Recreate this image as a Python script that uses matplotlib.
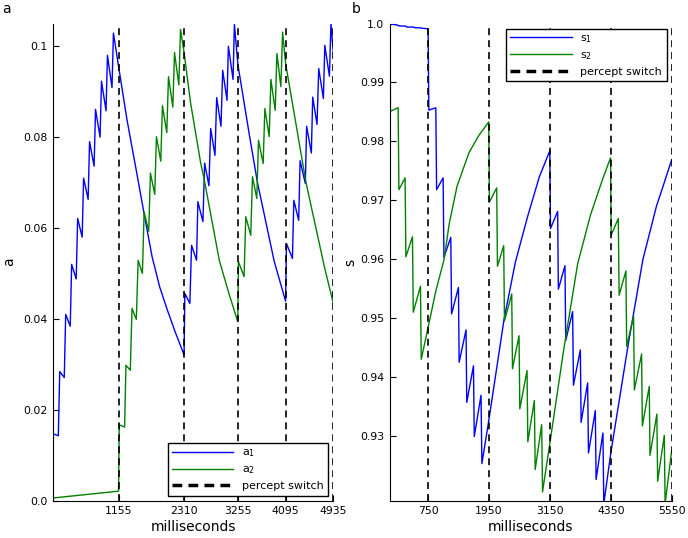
#!/usr/bin/env python3
"""Adaptation (a) and synaptic depression (s) traces with percept switches."""
import matplotlib
matplotlib.use("Agg")
import matplotlib.pyplot as plt
from matplotlib.lines import Line2D

plt.rcParams.update({
    "font.family": "DejaVu Sans", "lines.scale_dashes": False,
    "xtick.direction": "in", "ytick.direction": "in",
})

# ----- panel a: adaptation a1 / a2 (ms, value) ------------------------------------
a1_t = [0, 8, 95, 120, 200, 225, 305, 330, 410, 435, 515, 540, 620, 645, 725, 750,
        830, 855, 935, 960, 1040, 1065, 1155, 1304, 1480, 1597, 1745, 1880, 2010, 2150,
        2308, 2322, 2410, 2440, 2528, 2551, 2640, 2670, 2746, 2776, 2852, 2882, 2958,
        2988, 3064, 3088, 3170, 3194, 3255, 3453, 3600, 3894, 4095, 4110, 4215, 4240,
        4325, 4350, 4442, 4465, 4548, 4572, 4648, 4678, 4760, 4785, 4866, 4893, 4935]
a1_v = [0.0, 0.0147, 0.0143, 0.0284, 0.0271, 0.0410, 0.0384, 0.0520, 0.0488, 0.0621,
        0.0580, 0.0710, 0.0663, 0.0790, 0.0736, 0.0861, 0.0800, 0.0923, 0.0858, 0.0980,
        0.0909, 0.1029, 0.0956, 0.0838, 0.0718, 0.0637, 0.0537, 0.0470, 0.0421, 0.0372,
        0.0321, 0.0456, 0.0434, 0.0562, 0.0529, 0.0658, 0.0614, 0.0743, 0.0693, 0.0819,
        0.0760, 0.0887, 0.0824, 0.0947, 0.0881, 0.1000, 0.0927, 0.1048, 0.0960, 0.0808,
        0.0700, 0.0527, 0.0439, 0.0566, 0.0533, 0.0661, 0.0617, 0.0748, 0.0698, 0.0824,
        0.0765, 0.0888, 0.0828, 0.0951, 0.0885, 0.1002, 0.0934, 0.1050, 0.0985]
a2_t = [0, 1155, 1168, 1262, 1285, 1362, 1392, 1468, 1500, 1575, 1605, 1686, 1716,
        1792, 1822, 1898, 1928, 2004, 2034, 2110, 2140, 2216, 2246, 2310, 2422, 2599,
        2658, 2930, 3100, 3253, 3265, 3364, 3394, 3482, 3512, 3588, 3618, 3700, 3730,
        3806, 3836, 3912, 3942, 4012, 4042, 4095, 4454, 4777, 4935]
a2_v = [0.0006, 0.0021, 0.0167, 0.0162, 0.0298, 0.0287, 0.0423, 0.0399, 0.0529, 0.0500,
        0.0635, 0.0593, 0.0721, 0.0674, 0.0801, 0.0747, 0.0869, 0.0810, 0.0933, 0.0866,
        0.0986, 0.0915, 0.1037, 0.0985, 0.0876, 0.0744, 0.0710, 0.0528, 0.0455, 0.0394,
        0.0526, 0.0493, 0.0625, 0.0584, 0.0713, 0.0665, 0.0793, 0.0742, 0.0863, 0.0801,
        0.0927, 0.0859, 0.0984, 0.0911, 0.1031, 0.0962, 0.0700, 0.0515, 0.0434]
switch_a = [1155, 2310, 3255, 4095, 4935]

# ----- panel b: depression s1 / s2 (ms, value) ------------------------------------
s1_t = [0, 160, 175, 310, 325, 465, 480, 615, 630, 750, 765, 902, 918, 1046, 1062,
        1197, 1213, 1348, 1362, 1498, 1512, 1644, 1660, 1793, 1810, 1951, 2247, 2470,
        2713, 2943, 3148, 3162, 3303, 3317, 3447, 3462, 3598, 3614, 3750, 3765, 3894,
        3910, 4045, 4060, 4195, 4212, 4352, 4689, 4984, 5250, 5404, 5550]
s1_v = [0.99995, 0.9997, 0.9996, 0.99955, 0.9994, 0.9994, 0.9993, 0.99925, 0.9992,
        0.9991, 0.9853, 0.9857, 0.9718, 0.9738, 0.9603, 0.9637, 0.9507, 0.9552, 0.9425,
        0.9480, 0.9357, 0.9419, 0.9299, 0.9369, 0.9253, 0.9329, 0.9498, 0.9595, 0.9673,
        0.9740, 0.9784, 0.9652, 0.9681, 0.9549, 0.9589, 0.9462, 0.9511, 0.9386, 0.9446,
        0.9323, 0.9390, 0.9271, 0.9343, 0.9226, 0.9305, 0.9185, 0.9272, 0.9453, 0.9600,
        0.9690, 0.9730, 0.9769]
s2_t = [0, 8, 160, 175, 297, 312, 442, 458, 600, 615, 750, 900, 1066, 1164, 1321, 1557,
        1750, 1945, 1958, 2102, 2117, 2240, 2255, 2398, 2413, 2542, 2557, 2700, 2715,
        2844, 2860, 2988, 3005, 3152, 3420, 3697, 3950, 4189, 4345, 4358, 4498, 4514,
        4648, 4663, 4799, 4814, 4957, 4972, 5108, 5122, 5258, 5273, 5404, 5420, 5550]
s2_v = [1.0, 0.9851, 0.9857, 0.9718, 0.9738, 0.9604, 0.9638, 0.9510, 0.9554, 0.9430,
        0.9484, 0.9545, 0.9600, 0.9659, 0.9724, 0.9781, 0.9810, 0.9833, 0.9697, 0.9721,
        0.9588, 0.9623, 0.9495, 0.9541, 0.9414, 0.9470, 0.9346, 0.9411, 0.9290, 0.9360,
        0.9243, 0.9319, 0.9205, 0.9289, 0.9445, 0.9592, 0.9675, 0.9736, 0.9772, 0.9641,
        0.9669, 0.9539, 0.9580, 0.9452, 0.9503, 0.9378, 0.9439, 0.9317, 0.9384, 0.9267,
        0.9337, 0.9223, 0.9301, 0.9185, 0.9275]
switch_s = [750, 1950, 3150, 4350, 5550]

a_ticks = [0.0, 0.02, 0.04, 0.06, 0.08, 0.1]
a_ticklabels = ["0.0", "0.02", "0.04", "0.06", "0.08", "0.1"]
s_ticks = [0.93, 0.94, 0.95, 0.96, 0.97, 0.98, 0.99, 1.0]
s_ticklabels = ["0.93", "0.94", "0.95", "0.96", "0.97", "0.98", "0.99", "1.0"]

DASH = (5, 3.6)
fig = plt.figure(figsize=(6.88, 5.38), dpi=100)
ax1 = fig.add_axes([0.0769, 0.0693, 0.4076, 0.887])
ax2 = fig.add_axes([0.5669, 0.0693, 0.4094, 0.887])


def style(ax, switches, xmax, yticks, ylabels, ylim):
    for x in switches:
        ax.axvline(x, color="k", lw=1.2, dashes=DASH, zorder=3)
    ax.set_xlim(0, xmax)
    ax.set_ylim(*ylim)
    ax.set_xticks(switches)
    ax.set_xticklabels([str(x) for x in switches], fontsize=7.8)
    ax.set_yticks(yticks)
    ax.set_yticklabels(ylabels, fontsize=7.8)
    ax.tick_params(length=4, width=0.8, pad=4)
    for s in ("top", "right"):
        ax.spines[s].set_visible(False)
    ax.set_xlabel("milliseconds", fontsize=10, labelpad=3)


ax1.plot(a1_t, a1_v, color="b", lw=1.0)
ax1.plot(a2_t, a2_v, color="g", lw=1.0)
style(ax1, switch_a, 4935, a_ticks, a_ticklabels, (0, 0.105))
ax1.set_ylabel("a", fontsize=10)
ax1.yaxis.set_label_coords(-0.13, 0.5)

ax2.plot(s1_t, s1_v, color="b", lw=1.0)
ax2.plot(s2_t, s2_v, color="g", lw=1.0)
style(ax2, switch_s, 5550, s_ticks, s_ticklabels, (0.919, 1.0))
ax2.set_ylabel("s", fontsize=10)
ax2.yaxis.set_label_coords(-0.115, 0.5)

for ax, loc, names in ((ax1, "lower right", ("a$_1$", "a$_2$")),
                       (ax2, "upper right", ("s$_1$", "s$_2$"))):
    handles = [Line2D([], [], color="b", lw=1.0), Line2D([], [], color="g", lw=1.0),
               Line2D([], [], color="k", lw=2.5, dashes=(7, 4.5))]
    leg = ax.legend(handles, list(names) + ["percept switch"], loc=loc, fontsize=8,
                    handlelength=5.5, fancybox=False, framealpha=1, borderaxespad=0.45,
                    labelspacing=0.45)
    leg.get_frame().set_edgecolor("k")
    leg.get_frame().set_linewidth(1.0)

fig.text(2 / 688, 1 - 2 / 538, "a", fontsize=10, va="top", ha="left")
fig.text(352 / 688, 1 - 2 / 538, "b", fontsize=10, va="top", ha="left")

fig.savefig("out.png", dpi=100)
